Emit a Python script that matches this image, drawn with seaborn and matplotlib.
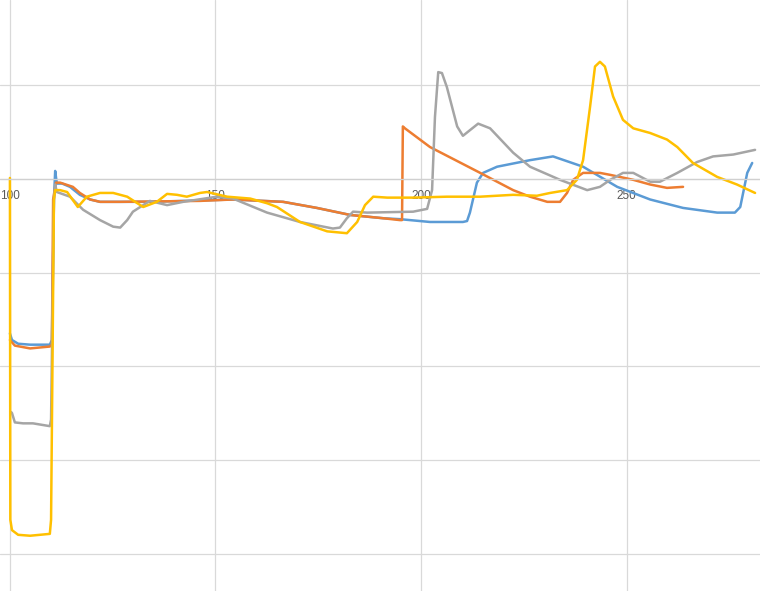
import pandas as pd
import seaborn as sns
import matplotlib.pyplot as plt

# values, one x/y pair of lists per series
blue_x = [100.1, 100.6, 102.1, 105.0, 109.8, 110.3, 110.8, 111.1, 111.5, 112.8, 114.7, 117.1, 119.6,
          122.0, 134.1, 146.3, 154.3, 166.5, 174.7, 182.8, 190.8, 194.9, 202.2, 210.2, 211.2, 211.9,
          213.6, 215.1, 218.5, 226.5, 232.1, 239.4, 247.7, 255.7, 263.7, 272.0, 276.3, 277.6, 279.3, 280.5]
blue_y = [-16.5, -17.2, -17.6, -17.7, -17.7, -17.2, -2.2, 0.85, -0.5, -0.5, -0.85, -1.7, -2.2,
          -2.45, -2.45, -2.3, -2.2, -2.45, -3.1, -3.85, -4.2, -4.3, -4.6, -4.6, -4.5, -3.6,
          -0.4, 0.64, 1.3, 2.0, 2.4, 1.3, -0.85, -2.2, -3.1, -3.6, -3.6, -3.0, 0.64, 1.7]

orange_x = [100.1, 101.3, 105.0, 109.8, 110.3, 110.6, 111.3, 112.3, 115.4, 117.1, 119.6, 122.0, 126.9,
            146.3, 154.3, 166.5, 174.7, 182.8, 190.8, 194.9, 195.4, 195.6, 196.1, 202.2, 214.4, 222.4,
            226.5, 230.7, 233.8, 235.5, 237.0, 239.4, 243.5, 246.0, 251.6, 255.7, 259.8, 263.7]
orange_y = [-17.2, -17.8, -18.1, -17.9, -17.7, -2.2, -0.4, -0.4, -0.85, -1.5, -2.2, -2.45, -2.45,
            -2.35, -2.2, -2.45, -3.1, -3.85, -4.2, -4.4, -4.4, 5.6, 5.4, 3.4, 0.64, -1.2,
            -1.9, -2.45, -2.45, -1.5, -0.1, 0.64, 0.64, 0.43, -0.1, -0.6, -0.96, -0.85]

gray_x = [100.4, 100.6, 101.3, 103.3, 105.7, 109.8, 110.1, 110.8, 111.1, 111.5, 114.7, 117.9, 122.0,
          125.2, 126.9, 128.6, 130.0, 134.1, 138.3, 142.2, 150.4, 154.3, 162.6, 170.6, 178.6, 180.3,
          182.0, 183.5, 186.9, 198.1, 201.5, 202.7, 203.4, 204.2, 205.1, 206.3, 208.8, 210.2, 211.9,
          213.9, 216.8, 222.4, 226.5, 233.8, 240.4, 243.5, 246.0, 249.1, 251.6, 255.7, 258.1, 262.3,
          267.1, 271.0, 275.9, 281.2]
gray_y = [-24.9, -25.0, -26.0, -26.1, -26.1, -26.4, -25.7, -2.2, -0.6, -1.4, -1.9, -3.3, -4.4,
          -5.1, -5.2, -4.4, -3.5, -2.35, -2.8, -2.45, -1.9, -2.1, -3.6, -4.6, -5.3, -5.2,
          -4.2, -3.5, -3.6, -3.5, -3.2, -1.2, 6.6, 11.4, 11.3, 9.8, 5.6, 4.6, 5.2,
          5.9, 5.4, 2.8, 1.3, -0.1, -1.2, -0.85, -0.1, 0.64, 0.64, -0.3, -0.3, 0.64,
          1.8, 2.4, 2.6, 3.1]

yellow_x = [100.1, 100.2, 100.6, 102.1, 105.0, 107.4, 109.8, 110.1, 110.8, 111.1, 112.3, 114.0, 116.6,
            118.8, 122.0, 125.2, 128.6, 132.5, 135.8, 138.3, 140.7, 143.1, 146.3, 148.0, 152.9, 158.5,
            162.6, 165.0, 170.6, 177.2, 182.0, 184.5, 186.4, 188.4, 191.8, 198.1, 206.3, 214.4, 222.4,
            228.2, 231.4, 235.5, 237.9, 239.4, 241.1, 242.3, 243.5, 244.7, 246.7, 249.1, 251.6, 255.7,
            259.8, 262.3, 266.1, 272.0, 276.8, 281.2]
yellow_y = [0.1, -36.4, -37.5, -38.0, -38.1, -38.0, -37.9, -36.4, -2.2, -1.2, -1.2, -1.4, -3.0,
            -1.9, -1.5, -1.5, -1.9, -3.0, -2.45, -1.6, -1.7, -1.9, -1.5, -1.4, -1.9, -2.1,
            -2.6, -3.0, -4.6, -5.6, -5.8, -4.6, -2.8, -1.9, -2.0, -2.0, -1.9, -1.9, -1.7,
            -1.8, -1.5, -1.2, -0.1, 2.0, 7.7, 12.0, 12.5, 12.0, 8.8, 6.3, 5.4, 4.9,
            4.2, 3.4, 1.7, 0.21, -0.6, -1.5]

x_ticks = [100, 150, 200, 250]
y_grid = [10, 0, -10, -20, -30, -40]

series = {
    'Series1': (blue_x, blue_y),
    'Series2': (orange_x, orange_y),
    'Series3': (gray_x, gray_y),
    'Series4': (yellow_x, yellow_y),
}
frames = []
for name, (xs, ys) in series.items():
    frames.append(pd.DataFrame({'x': xs, 'y': ys, 'series': name}))
df = pd.concat(frames, ignore_index=True)

sns.set_style('white')
plt.rcParams['font.family'] = ['Liberation Sans', 'DejaVu Sans']

fig = plt.figure(figsize=(7.6, 5.91), dpi=100)
ax = fig.add_axes([0, 0, 1, 1])

colors = ['#5B9BD5', '#ED7D31', '#A5A5A5', '#FFC000']
sns.lineplot(data=df, x='x', y='y', hue='series', palette=colors, sort=False,
             estimator=None, linewidth=1.8, legend=False, ax=ax)

ax.set_xlim(97.69, 282.4)
ax.set_ylim(-44.0, 19.1)

# gridlines drawn by hand so only the reference ones show
for v in x_ticks:
    ax.axvline(v, color='#D9D9D9', linewidth=0.9, zorder=0)
for v in y_grid:
    ax.axhline(v, color='#D9D9D9', linewidth=0.9, zorder=0)

for s in ['top', 'right', 'left']:
    ax.spines[s].set_visible(False)
ax.spines['bottom'].set_position(('data', 0))
ax.spines['bottom'].set_color('#D0D0D0')
ax.spines['bottom'].set_linewidth(0.9)

ax.set_xticks(x_ticks)
ax.set_xticklabels([str(t) for t in x_ticks])
ax.tick_params(axis='x', length=0, pad=8, labelsize=8.5, colors='#595959')
ax.set_yticks([])
ax.set_xlabel('')
ax.set_ylabel('')

fig.savefig('out.png', dpi=100)
